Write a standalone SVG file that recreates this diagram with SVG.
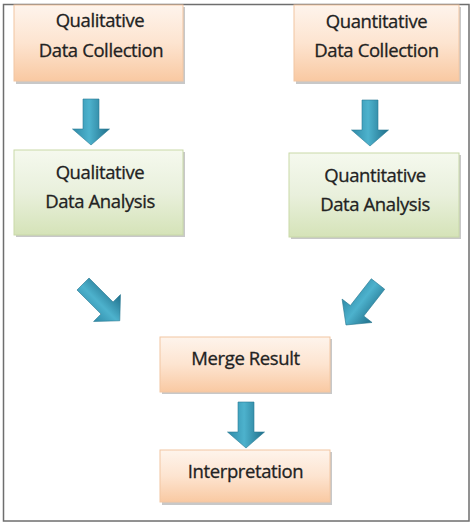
<svg xmlns="http://www.w3.org/2000/svg" width="474" height="526" viewBox="0 0 474 526">
<style>
.t{font-family:"Open Sans",Lato,"Liberation Sans",sans-serif;font-size:18.5px;letter-spacing:-0.4px;fill:#222222;stroke:#222222;stroke-width:0.3;text-anchor:middle;font-variant-ligatures:none}
.or{fill:url(#gO);stroke:#f2c6a2;stroke-width:1}
.gr{fill:url(#gG);stroke:#c9d9a8;stroke-width:1}
.sh{fill:#9a9a9a;opacity:0.55}
.ar{fill:url(#gA);stroke:#2a7a93;stroke-width:0.6}
</style>
<defs>
<linearGradient id="gO" x1="0" y1="0" x2="0" y2="1">
<stop offset="0" stop-color="#fef4ec"/><stop offset="0.5" stop-color="#fde4d0"/><stop offset="1" stop-color="#f9c9a2"/>
</linearGradient>
<linearGradient id="gG" x1="0" y1="0" x2="0" y2="1">
<stop offset="0" stop-color="#f5f9ee"/><stop offset="0.5" stop-color="#e9f0dc"/><stop offset="1" stop-color="#d5e3b8"/>
</linearGradient>
<linearGradient id="gA" x1="0" y1="0" x2="1" y2="0">
<stop offset="0" stop-color="#2f8aa7"/><stop offset="0.45" stop-color="#4db2cd"/><stop offset="1" stop-color="#1f6e89"/>
</linearGradient>
<path id="arr" d="M-8,0 H8 V30 H18.5 L0,46 L-18.5,30 H-8 Z"/>
<path id="arrL" d="M-8.5,0 H8.5 V34 H19 L0,52 L-19,34 H-8.5 Z"/>
</defs>
<rect x="3.5" y="4.5" width="465.5" height="516.5" fill="#ffffff" stroke="#6e6e6e" stroke-width="1.5"/>
<g id="connectors">
<use href="#arr" class="ar" transform="translate(91,99)"/>
<use href="#arr" class="ar" transform="translate(370,100)"/>
<use href="#arrL" class="ar" transform="translate(83,284) rotate(-45)"/>
<use href="#arrL" class="ar" transform="translate(378,284) rotate(38)"/>
<use href="#arr" class="ar" transform="translate(246,402)"/>
</g>
<g id="qual-collection">
<rect class="sh" x="16" y="7" width="169" height="77"/>
<rect class="or" x="14" y="5" width="169" height="76"/>
<text class="t" x="100" y="27">Qualitative</text>
<text class="t" x="101" y="57">Data Collection</text>
</g>
<g id="quan-collection">
<rect class="sh" x="296" y="7" width="165" height="77"/>
<rect class="or" x="294" y="5" width="165" height="76"/>
<text class="t" x="376.5" y="28">Quantitative</text>
<text class="t" x="376.5" y="57">Data Collection</text>
</g>
<g id="qual-analysis">
<rect class="sh" x="16" y="152" width="169" height="85"/>
<rect class="gr" x="14" y="150" width="169" height="85"/>
<text class="t" x="100" y="179">Qualitative</text>
<text class="t" x="100" y="208">Data Analysis</text>
</g>
<g id="quan-analysis">
<rect class="sh" x="291" y="155" width="170" height="84"/>
<rect class="gr" x="289" y="153" width="170" height="84"/>
<text class="t" x="375" y="182">Quantitative</text>
<text class="t" x="375" y="211">Data Analysis</text>
</g>
<g id="merge">
<rect class="sh" x="162" y="339" width="170" height="55"/>
<rect class="or" x="160" y="337" width="170" height="55"/>
<text class="t" x="245.5" y="365">Merge Result</text>
</g>
<g id="interpretation">
<rect class="sh" x="162" y="452" width="170" height="53"/>
<rect class="or" x="160" y="450" width="170" height="52"/>
<text class="t" x="245.5" y="478">Interpretation</text>
</g>
</svg>
